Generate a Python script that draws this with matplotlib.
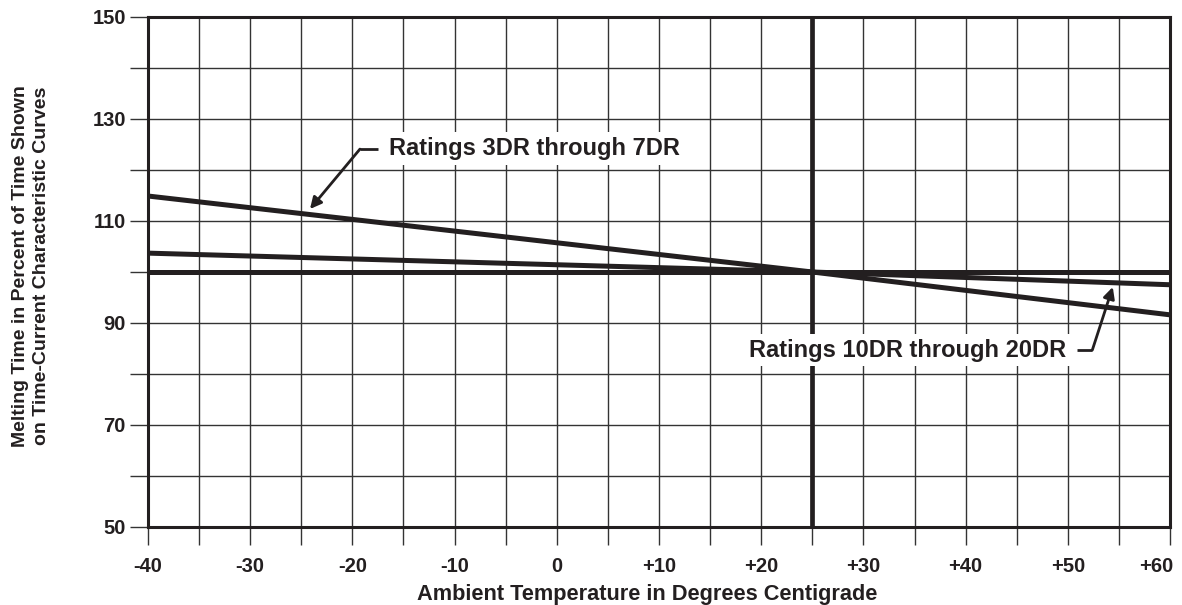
import matplotlib
matplotlib.use("Agg")
import matplotlib.pyplot as plt
import matplotlib.transforms as mtransforms
import numpy as np

plt.rcParams['font.family'] = ['Liberation Sans', 'DejaVu Sans']
plt.rcParams['font.weight'] = 'bold'

# Data
temps_3_7 = [-40, 25, 60]
melt_3_7 = [114.9, 100.0, 91.6]
temps_10_20 = [-40, 25, 60]
melt_10_20 = [103.7, 100.0, 97.5]
ref_level = 100
ref_temp = 25
x_ticks = list(range(-40, 61, 10))
x_labels = ['-40', '-30', '-20', '-10', '0', '+10', '+20', '+30', '+40', '+50', '+60']
y_ticks = [50, 70, 90, 110, 130, 150]

W, H = 1182, 605
fig = plt.figure(figsize=(W / 100, H / 100), dpi=100)
ax = fig.add_axes([148 / W, 1 - 527 / H, 1022 / W, 510 / H])
ax.set_xlim(-40, 60)
ax.set_ylim(50, 150)

grid_c = '#333333'
lc = '#231f20'
for x in np.arange(-40, 61, 5):
    ax.axvline(x, color=grid_c, lw=1.0, zorder=1)
for y in np.arange(50, 151, 10):
    ax.axhline(y, color=grid_c, lw=1.0, zorder=1)

ax.axhline(ref_level, color=lc, lw=3.6, zorder=3)
ax.axvline(ref_temp, color=lc, lw=3.4, zorder=3)
ax.plot(temps_3_7, melt_3_7, color=lc, lw=3.6, zorder=3, solid_capstyle='butt')
ax.plot(temps_10_20, melt_10_20, color=lc, lw=3.6, zorder=3, solid_capstyle='butt')

for s in ax.spines.values():
    s.set_linewidth(2.2)
    s.set_color(lc)
    s.set_zorder(4)

ax.set_xticks(x_ticks)
ax.set_xticklabels(x_labels)
ax.set_xticks(np.arange(-35, 60, 10), minor=True)
ax.set_yticks(y_ticks)
ax.set_yticks(np.arange(60, 150, 20), minor=True)
ax.tick_params(axis='both', which='both', direction='out', length=13, width=1.0,
               color=grid_c, labelsize=14.5)
ax.tick_params(axis='x', which='major', pad=8.5)
ax.tick_params(axis='y', which='major', pad=3)
for lab in ax.get_xticklabels() + ax.get_yticklabels():
    lab.set_fontweight('bold')
    lab.set_color(lc)
last = ax.get_xticklabels()[-1]
last.set_transform(last.get_transform() +
                   mtransforms.ScaledTranslation(-14 / 100, 0, fig.dpi_scale_trans))

fig.text(647 / W, 1 - 600 / H, 'Ambient Temperature in Degrees Centigrade',
         fontsize=15.7, fontweight='bold', color=lc, ha='center', va='baseline')
fig.text(31 / W, 1 - 266 / H,
         'Melting Time in Percent of Time Shown\non Time-Current Characteristic Curves',
         fontsize=14, fontweight='bold', color=lc, ha='center', va='center',
         rotation=90, multialignment='center', linespacing=1.3)

bbox = dict(boxstyle='square,pad=0.2', fc='white', ec='none')
ax.text(-16.4, 124.2, 'Ratings 3DR through 7DR', fontsize=17, fontweight='bold',
        color=lc, va='center', ha='left', bbox=bbox, zorder=5)
ax.plot([-17.5, -19.26], [124.1, 124.1], color=lc, lw=2, zorder=5,
        solid_capstyle='butt')
ax.annotate('', xy=(-24.15, 112.35), xytext=(-19.26, 124.1),
            arrowprops=dict(arrowstyle='-|>', color=lc, lw=2, mutation_scale=17,
                            shrinkA=0, shrinkB=0), zorder=5)

ax.text(49.8, 84.7, 'Ratings 10DR through 20DR', fontsize=17, fontweight='bold',
        color=lc, va='center', ha='right', bbox=bbox, zorder=5)
ax.plot([50.9, 52.4], [84.7, 84.7], color=lc, lw=2, zorder=5,
        solid_capstyle='butt')
ax.annotate('', xy=(54.4, 97.06), xytext=(52.4, 84.7),
            arrowprops=dict(arrowstyle='-|>', color=lc, lw=2, mutation_scale=17,
                            shrinkA=0, shrinkB=0), zorder=5)

fig.savefig('out.png', dpi=100)
